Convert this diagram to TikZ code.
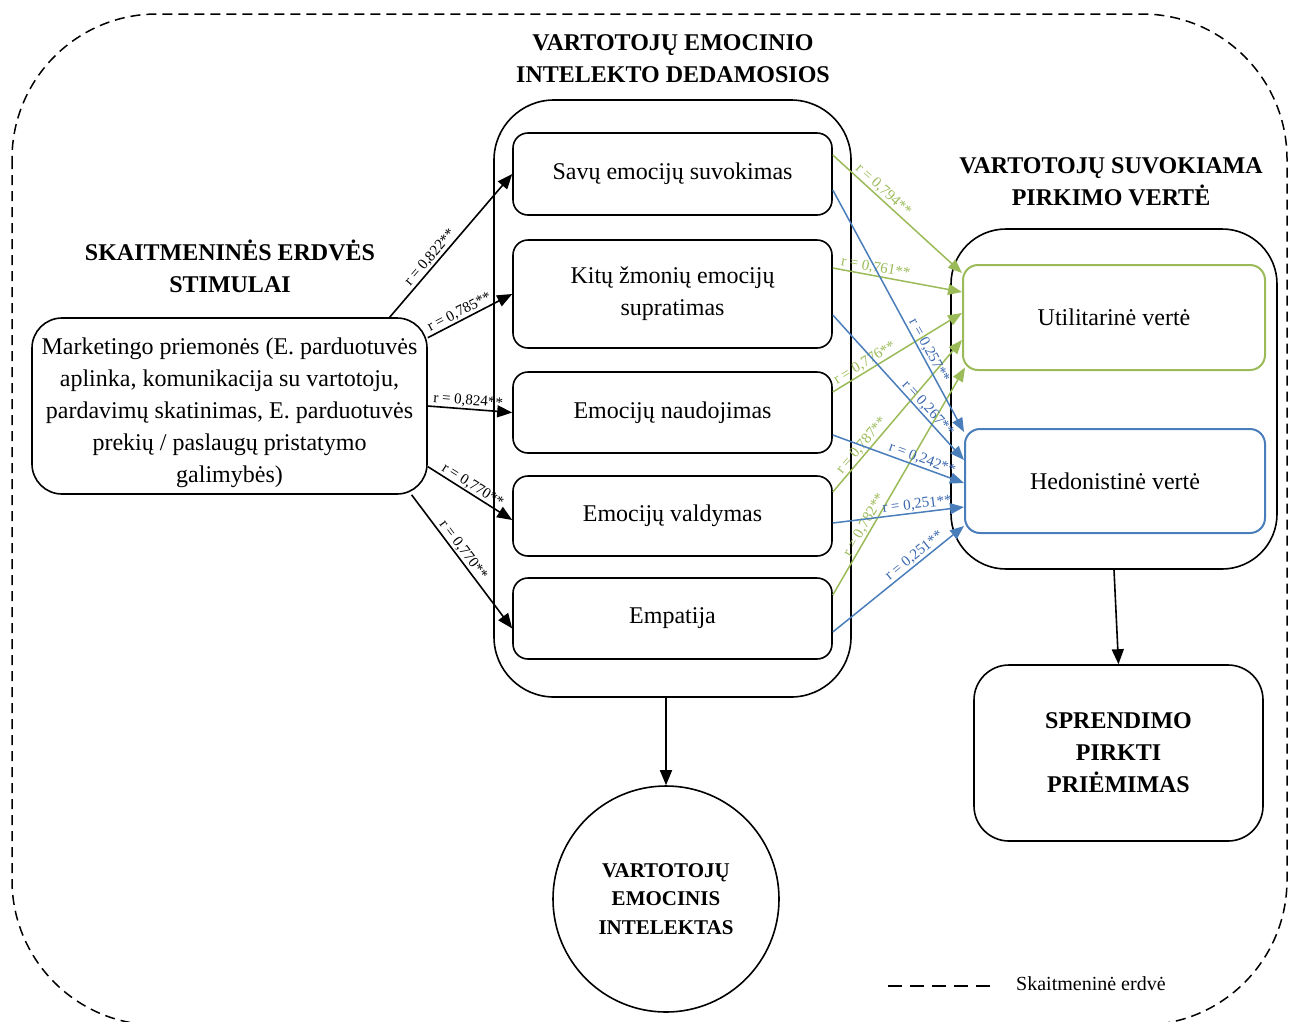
\documentclass[tikz,border=0pt]{standalone}
\usepackage{fontspec}
\setmainfont{Liberation Serif}
\usetikzlibrary{arrows.meta,calc}
\definecolor{gcol}{HTML}{9BBB59}
\definecolor{bcol}{HTML}{4A7EBB}
\definecolor{btxt}{HTML}{3A67B0}
\newcommand\mainfs{\fontsize{24}{32}\selectfont}
\newcommand\ttlfs{\bfseries\fontsize{24}{32}\selectfont}
\newcommand\circfs{\bfseries\fontsize{21}{28.5}\selectfont}
\newcommand\lblfs{\fontsize{15}{17}\selectfont}
\newcommand\legfs{\fontsize{20}{24}\selectfont}
\tikzset{
  box/.style={draw, line width=1.6pt, rounded corners=15pt, minimum width=319pt, align=center, inner sep=0pt, font=\mainfs},
  cont/.style={draw, line width=1.6pt, inner sep=0pt},
  ttl/.style={align=center, font=\ttlfs, inner sep=0pt},
  blk/.style={line width=1.6pt, -{Triangle[length=15pt,width=12pt]}},
  garr/.style={draw=gcol, line width=1.5pt, -{Triangle[length=14pt,width=11pt]}},
  barr/.style={draw=bcol, line width=1.5pt, -{Triangle[length=14pt,width=11pt]}},
  lbl/.style={sloped, above, inner sep=1pt, font=\lblfs},
  glbl/.style={lbl, text=gcol},
  blbl/.style={lbl, text=btxt},
}
\begin{document}
\begin{tikzpicture}[x=1pt,y=-1pt]
\useasboundingbox (0,0) rectangle (1290,1021);
\begin{scope}
\clip (0,0) rectangle (1290,1021);
\draw[line width=1.5pt, dash pattern=on 10pt off 6pt, rounded corners=145pt] (12,14) rectangle (1287,1025);
\end{scope}

% titles
\node[ttl] (t1) at (673,59) {VARTOTOJŲ EMOCINIO\\INTELEKTO DEDAMOSIOS};
\node[ttl] (t2) at (230,266) {SKAITMENINĖS ERDVĖS\\STIMULAI};
\node[ttl] (t3) at (1111,182) {VARTOTOJŲ SUVOKIAMA\\PIRKIMO VERTĖ};

% containers
\node[cont, rounded corners=60pt, minimum width=357pt, minimum height=597pt] (c1) at (672.5,398.5) {};
\node[cont, rounded corners=55pt, minimum width=326pt, minimum height=340pt] (c2) at (1114,399) {};

% inner boxes
\node[box, minimum height=82pt] (b1) at (672.5,174) {Savų emocijų suvokimas};
\node[box, minimum height=108pt] (b2) at (672.5,294) {Kitų žmonių emocijų\\supratimas};
\node[box, minimum height=81pt] (b3) at (672.5,412.5) {Emocijų naudojimas};
\node[box, minimum height=80pt] (b4) at (672.5,516) {Emocijų valdymas};
\node[box, minimum height=81pt] (b5) at (672.5,618.5) {Empatija};

% marketing box
\node[box, rounded corners=30pt, minimum width=395pt, minimum height=176pt] (mk) at (229.5,406) {};
\node[align=center, font=\mainfs, inner sep=0pt] (mkt) at (229.5,413)
  {Marketingo priemonės (E. parduotuvės\\aplinka, komunikacija su vartotoju,\\pardavimų skatinimas, E. parduotuvės\\prekių / paslaugų pristatymo\\galimybės)};

% value boxes
\node[box, draw=gcol, line width=2pt, minimum width=302pt, minimum height=105pt] (ut) at (1114,317.5) {Utilitarinė vertė};
\node[box, draw=bcol, line width=2pt, minimum width=300pt, minimum height=104pt] (he) at (1115,481) {Hedonistinė vertė};

% decision box
\node[box, rounded corners=35pt, minimum width=289pt, minimum height=176pt, font=\ttlfs] (sp) at (1118.5,753) {SPRENDIMO\\PIRKTI\\PRIĖMIMAS};

% circle
\node[draw, circle, line width=1.6pt, minimum size=226pt, inner sep=0pt, align=center, font=\circfs] (ci) at (666,899) {VARTOTOJŲ\\EMOCINIS\\INTELEKTAS};

% legend
\coordinate (lg1) at (888,986);
\coordinate (lg2) at (992,986);
\draw[line width=1.5pt, dash pattern=on 14pt off 8pt] (lg1) -- (lg2);
\node[font=\legfs, anchor=west, inner sep=0pt] (lgt) at (1016,984) {Skaitmeninė erdvė};

% vertical arrows
\draw[blk] (ci.north |- c1.south) -- (ci.north);
\draw[blk] (c2.south) -- (sp.north);

% black arrows
\draw[blk] (mk.29) -- node[lbl, pos=0.38] {r = 0,822**} (b1.west);
\draw[blk] (mk.19.3) -- node[lbl, pos=0.42] {r = 0,785**} (b2.west);
\draw[blk] (mk.0.9) -- node[lbl, pos=0.47] {r = 0,824**} (b3.west);
\draw[blk] (mk.-17.2) -- node[lbl, pos=0.48] {r = 0,770**} ([yshift=-4pt]b4.west);
\draw[blk] (mk.-26.2) -- node[lbl, pos=0.45] {r = 0,770**} ([yshift=-10pt]b5.west);

% green arrows
\draw[garr] ([yshift=19pt]b1.east) -- node[glbl, pos=0.35] {r = 0,794**} ([yshift=44.5pt]ut.west);
\draw[garr] ([yshift=26pt]b2.east) -- node[glbl, pos=0.32] {r = 0,761**} ([yshift=25.5pt]ut.west);
\draw[garr] ([yshift=20.5pt]b3.east) -- node[glbl, pos=0.28] {r = 0,776**} ([yshift=4.5pt]ut.west);
\draw[garr] ([yshift=24pt]b4.east) -- node[glbl, pos=0.27] {r = 0,787**} ([yshift=-22.5pt]ut.west);
\draw[garr] ([yshift=23.5pt]b5.east) -- node[glbl, pos=0.29] {r = 0,782**} ([yshift=-50pt,xshift=3pt]ut.west);

% blue arrows
\draw[barr] ([yshift=-16pt]b1.east) -- node[blbl, pos=0.68] {r = 0,257**} ([yshift=49pt]he.west);
\draw[barr] ([yshift=-21pt]b2.east) -- node[blbl, pos=0.68] {r = 0,267**} ([yshift=21pt]he.west);
\draw[barr] ([yshift=-22.5pt]b3.east) -- node[blbl, pos=0.66] {r = 0,242**} ([yshift=-2pt]he.west);
\draw[barr] ([yshift=-7pt]b4.east) -- node[blbl, pos=0.65] {r = 0,251**} ([yshift=-26pt]he.west);
\draw[barr] ([yshift=-13.5pt]b5.east) -- node[blbl, pos=0.66] {r = 0,251**} ([yshift=-45pt]he.west);
\end{tikzpicture}
\end{document}
